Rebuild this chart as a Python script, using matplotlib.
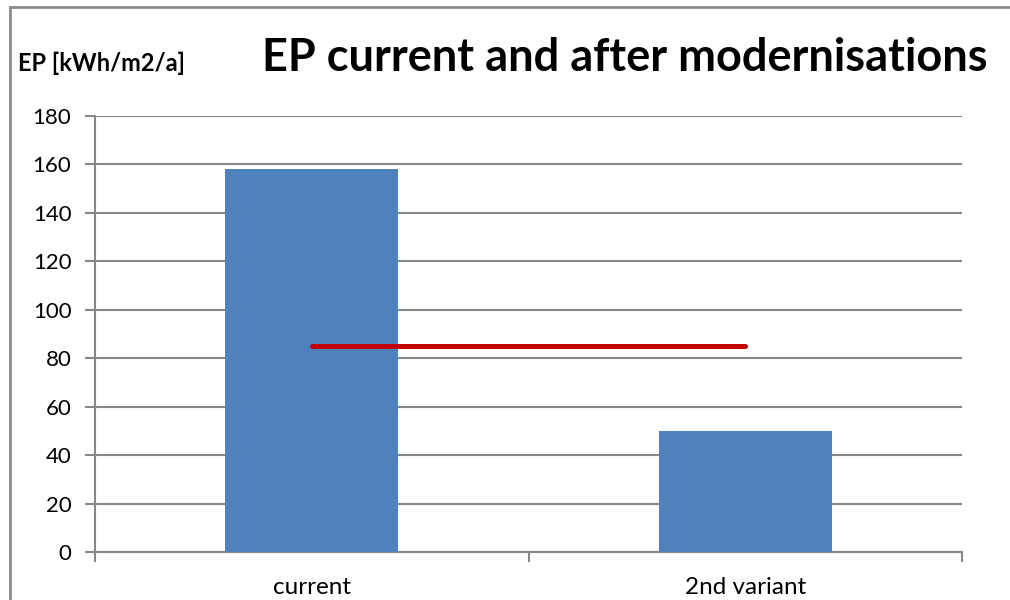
import matplotlib
matplotlib.use("Agg")
import matplotlib.pyplot as plt
from matplotlib.lines import Line2D

categories = ["current", "2nd variant"]
ep_values = [158, 50]
limit_value = 85
y_ticks = [0, 20, 40, 60, 80, 100, 120, 140, 160, 180]
title = "EP current and after modernisations"
ylabel = "EP [kWh/m2/a]"

plt.rcParams['font.family'] = ['Lato', 'DejaVu Sans']

W, H = 1010, 600
fig = plt.figure(figsize=(W / 100, H / 100), dpi=100)
ax = fig.add_axes([95 / W, 1 - 552 / H, (962 - 95) / W, (552 - 116) / H])

grid_c = '#888888'
x = list(range(len(categories)))
ax.bar(x, ep_values, width=0.4, color='#4F81BD', zorder=3)
ax.plot([x[0], x[-1]], [limit_value, limit_value], color='#C00000', lw=3.6,
        solid_capstyle='round', zorder=4)

ax.set_xlim(-0.5, len(categories) - 0.5)
ax.set_ylim(0, 180)
ax.set_yticks(y_ticks)
ax.set_yticklabels([str(v) for v in y_ticks], fontsize=16)
ax.yaxis.grid(True, color=grid_c, lw=1.5, zorder=0)
ax.set_axisbelow(True)

ax.set_xticks([i - 0.5 for i in range(len(categories) + 1)])
ax.set_xticklabels([])
ax.set_xticks(x, minor=True)
ax.set_xticklabels(categories, minor=True, fontsize=17.5)
ax.tick_params(axis='x', which='minor', length=0, pad=18)
ax.tick_params(axis='x', which='major', length=7, width=1.5, color=grid_c, direction='out')
ax.tick_params(axis='y', length=7, width=1.5, color=grid_c, direction='out', pad=10)

for s in ['top', 'right']:
    ax.spines[s].set_visible(False)
for s in ['left', 'bottom']:
    ax.spines[s].set_color(grid_c)
    ax.spines[s].set_linewidth(1.5)

fig.text(262 / W, 1 - 58 / H, title, fontsize=32.5, fontweight='bold', va='center', ha='left')
fig.text(18 / W, 1 - 63 / H, ylabel, fontsize=17, fontweight='bold', va='center', ha='left')

# chart-area frame (top and left edges visible)
fig.add_artist(Line2D([10 / W, 1.0], [1 - 7 / H, 1 - 7 / H], transform=fig.transFigure, color='#8c8c8c', lw=2))
fig.add_artist(Line2D([10 / W, 10 / W], [0, 1 - 7 / H], transform=fig.transFigure, color='#8c8c8c', lw=2))

fig.savefig("out.png", dpi=100)
